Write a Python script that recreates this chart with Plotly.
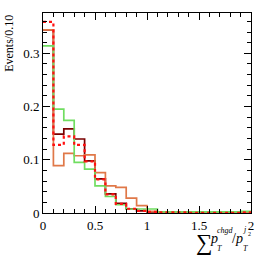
import plotly.graph_objects as go

edges = [round(i * 0.1, 1) for i in range(21)]

dark_red = [0.344, 0.148, 0.158, 0.139, 0.098, 0.064, 0.036, 0.018, 0.008, 0.004,
            0.002, 0.001, 0.001, 0.0005, 0.0005, 0.0005, 0.0005, 0.0003, 0.0003, 0.0003]
red_dotted = [0.359, 0.128, 0.144, 0.128, 0.097, 0.063, 0.035, 0.017, 0.008, 0.004,
              0.002, 0.001, 0.001, 0.001, 0.0005, 0.0005, 0.0005, 0.0005, 0.0005, 0.001]
green = [0.314, 0.195, 0.174, 0.095, 0.0825, 0.051, 0.031, 0.0155, 0.0075, 0.0075,
         0.0075, 0.002, 0.002, 0.002, 0.002, 0.002, 0.002, 0.002, 0.002, 0.003]
orange = [0.344, 0.089, 0.112, 0.1075, 0.109, 0.076, 0.051, 0.048, 0.028, 0.0137,
          0.003, 0.001, 0.001, 0.001, 0.001, 0.001, 0.001, 0.001, 0.0005, 0.0005]

x_ticks = [0, 0.5, 1, 1.5, 2]
x_tick_labels = ["0", "0.5", "1", "1.5", "2"]
y_ticks = [0, 0.1, 0.2, 0.3]
y_tick_labels = ["0", "0.1", "0.2", "0.3"]

series = [
    (dark_red, "#7a0000", "solid", 1.7),
    (orange, "#e07848", "solid", 1.7),
    (green, "#70dd60", "solid", 1.7),
    (red_dotted, "#ff1010", "dot", 2.2),
]

fig = go.Figure()
for vals, col, dash, w in series:
    fig.add_trace(go.Scatter(
        x=edges, y=vals + [vals[-1]], mode="lines", line_shape="hv",
        line=dict(color=col, width=w, dash=dash), showlegend=False,
        hoverinfo="skip"))

W, H = 266, 255
L, R, T, B = 43, 13, 13, 42
pw, ph = W - L - R, H - T - B

def px2paper(px, py):
    return (px - L) / pw, (H - B - py) / ph

font_family = "Liberation Serif"

annotations = []
def add_text(text, px, py, size, xanchor="left"):
    x, y = px2paper(px, py)
    annotations.append(dict(text=text, x=x, y=y, xref="paper", yref="paper",
                            xanchor=xanchor, yanchor="middle", showarrow=False,
                            font=dict(family=font_family, size=size, color="black")))

add_text("∑", 195, 242, 23)
add_text("<i>p</i>", 210, 238, 14)
add_text("<i>chgd</i>", 217, 230, 8)
add_text("<i>T</i>", 217, 248, 8)
add_text("/<i>p</i>", 232, 238, 14)
add_text("<i>j</i>", 243, 229, 8)
add_text("2", 248, 234, 6)
add_text("<i>T</i>", 243, 248, 8)

x0, _ = px2paper(8, 0)
annotations.append(dict(text="Events/0.10", x=x0, y=1.0, xref="paper", yref="paper",
                        xanchor="center", yanchor="top", textangle=-90, showarrow=False,
                        font=dict(family=font_family, size=12, color="black")))

axis_common = dict(showgrid=False, zeroline=False, showline=True, linecolor="black",
                   linewidth=1, mirror="ticks", ticks="inside", ticklen=7,
                   tickcolor="black", tickwidth=1, layer="above traces",
                   tickfont=dict(family=font_family, size=13, color="black"))

fig.update_layout(
    width=W, height=H, margin=dict(l=L, r=R, t=T, b=B),
    paper_bgcolor="white", plot_bgcolor="white",
    font=dict(family=font_family),
    xaxis=dict(range=[0, 2], tickvals=x_ticks, ticktext=x_tick_labels,
               minor=dict(dtick=0.1, ticklen=4, ticks="inside", tickcolor="black"),
               **axis_common),
    yaxis=dict(range=[0, 0.3757], tickvals=y_ticks, ticktext=y_tick_labels,
               minor=dict(dtick=0.02, ticklen=4, ticks="inside", tickcolor="black"),
               **axis_common),
    annotations=annotations,
)

fig.write_html("out.html", config={"displayModeBar": False},
               post_script="document.body.style.margin='0';document.body.style.padding='0';")
